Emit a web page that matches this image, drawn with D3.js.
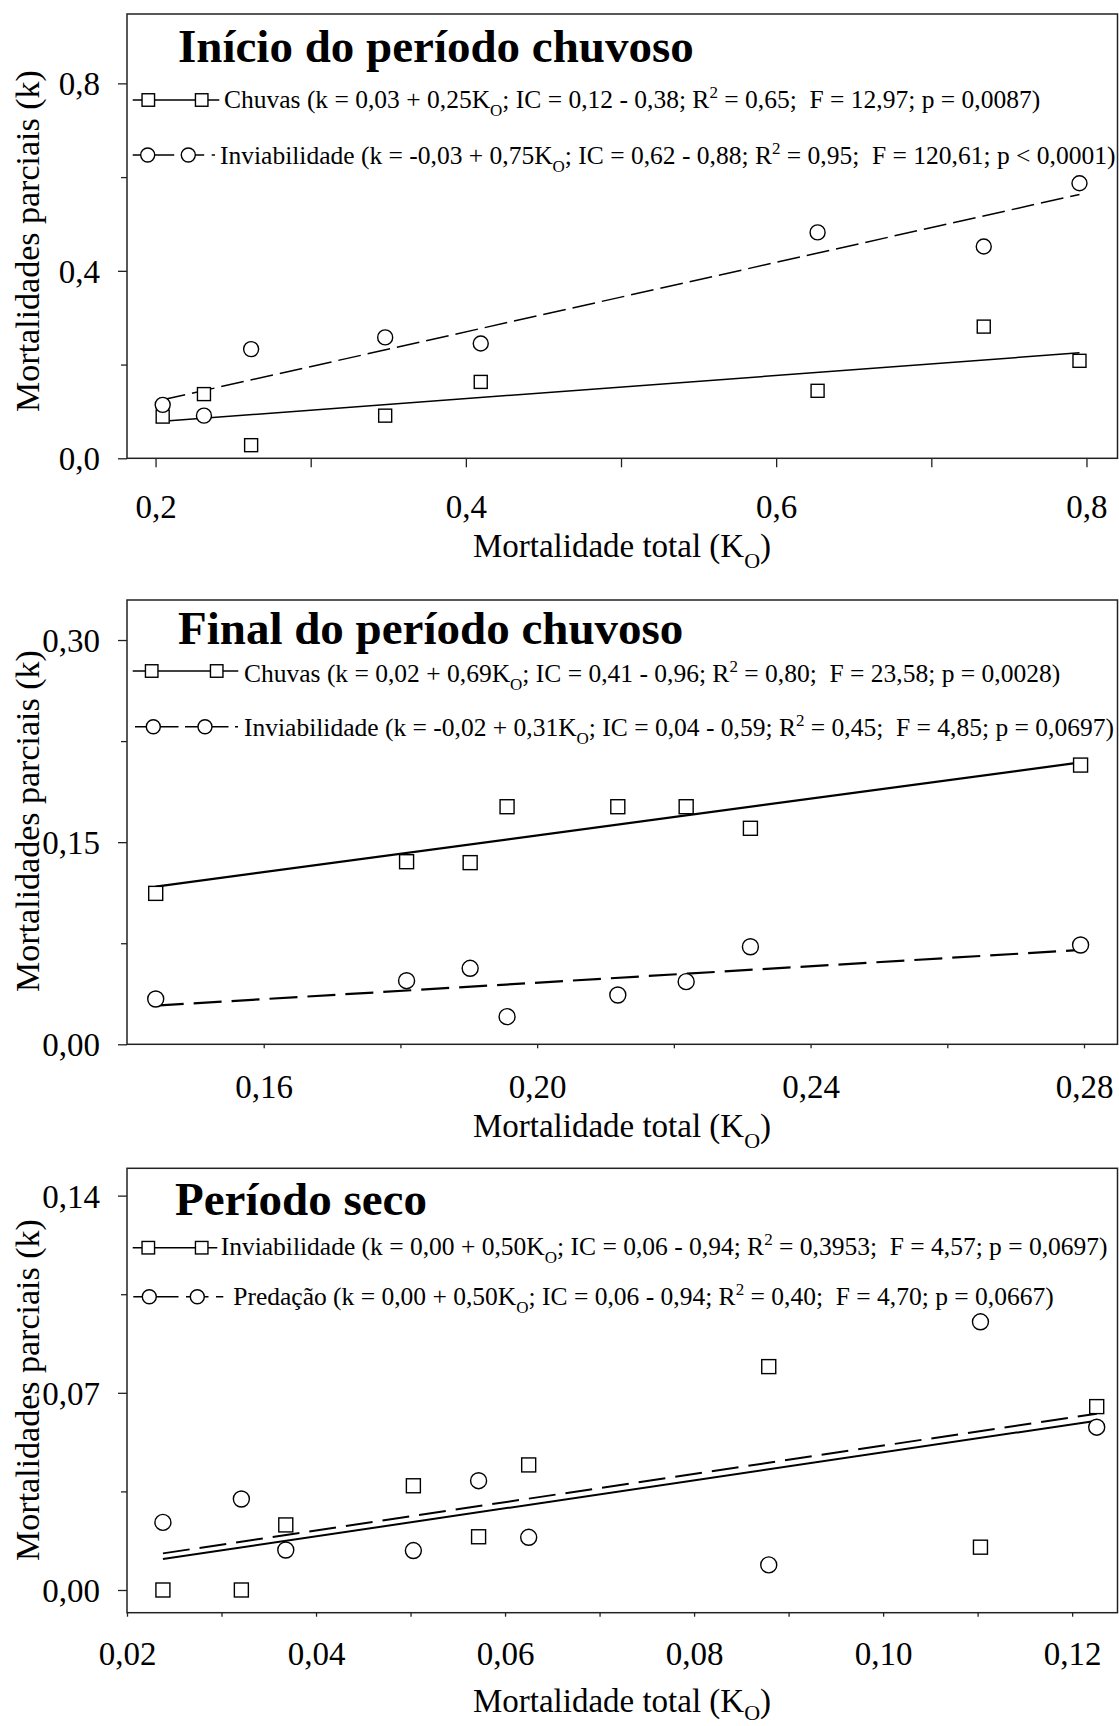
<!DOCTYPE html>
<html>
<head>
<meta charset="utf-8">
<script src="https://cdn.jsdelivr.net/npm/d3@7"></script>
<style>
  body { margin: 0; background: #fff; }
  svg { display: block; font-family: "Liberation Serif", "Times New Roman", serif; }
  text { white-space: pre; }
</style>
</head>
<body>
<svg id="chart" width="1119" height="1726"></svg>
<script>
// ---- data ----
var titles = ["Início do período chuvoso", "Final do período chuvoso", "Período seco"];

// panel 1 - inicio do periodo chuvoso
var p1X = [0.2046, 0.2312, 0.2616, 0.348, 0.4096, 0.6267, 0.7338, 0.7955];
var p1Chuvas = [0.089, 0.137, 0.028, 0.091, 0.163, 0.144, 0.281, 0.208];
var p1Inviab = [0.114, 0.091, 0.233, 0.258, 0.245, 0.482, 0.452, 0.587];
var p1FitChuvas = [[0.2046, 0.079], [0.7955, 0.225]];
var p1FitInviab = [[0.2046, 0.125], [0.7955, 0.563]];
var p1XMajor = [0.2, 0.4, 0.6, 0.8], p1XMinor = [0.3, 0.5, 0.7];
var p1XLabels = ["0,2", "0,4", "0,6", "0,8"];
var p1YMajor = [0, 0.4, 0.8], p1YMinor = [0.2, 0.6];
var p1YLabels = ["0,0", "0,4", "0,8"];
var p1Legend = [
  ["Chuvas (k = 0,03 + 0,25K", "O", "; IC = 0,12 - 0,38; R", "2", " = 0,65;  F = 12,97; p = 0,0087)"],
  ["Inviabilidade (k = -0,03 + 0,75K", "O", "; IC = 0,62 - 0,88; R", "2", " = 0,95;  F = 120,61; p < 0,0001)"]
];

// panel 2 - final do periodo chuvoso
var p2X = [0.1442, 0.1809, 0.1902, 0.1956, 0.2118, 0.2218, 0.2312, 0.2795];
var p2Chuvas = [0.112, 0.1355, 0.1348, 0.1763, 0.1763, 0.1763, 0.1603, 0.2072];
var p2Inviab = [0.0336, 0.0472, 0.0564, 0.0205, 0.0366, 0.0465, 0.0724, 0.0737];
var p2FitChuvas = [[0.1442, 0.117], [0.2795, 0.2092]];
var p2FitInviab = [[0.1442, 0.0287], [0.2795, 0.070]];
var p2XMajor = [0.16, 0.20, 0.24, 0.28], p2XMinor = [0.18, 0.22, 0.26];
var p2XLabels = ["0,16", "0,20", "0,24", "0,28"];
var p2YMajor = [0, 0.15, 0.30], p2YMinor = [0.075, 0.225];
var p2YLabels = ["0,00", "0,15", "0,30"];
var p2Legend = [
  ["Chuvas (k = 0,02 + 0,69K", "O", "; IC = 0,41 - 0,96; R", "2", " = 0,80;  F = 23,58; p = 0,0028)"],
  ["Inviabilidade (k = -0,02 + 0,31K", "O", "; IC = 0,04 - 0,59; R", "2", " = 0,45;  F = 4,85; p = 0,0697)"]
];

// panel 3 - periodo seco
var p3X = [0.0238, 0.0321, 0.0368, 0.0503, 0.0572, 0.0625, 0.0879, 0.1103, 0.1226];
var p3Inviab = [0, 0, 0.0231, 0.037, 0.0189, 0.0444, 0.0793, 0.0152, 0.0651];
var p3Predacao = [0.024, 0.0323, 0.0142, 0.014, 0.0388, 0.0187, 0.0089, 0.0952, 0.0578];
var p3FitInviab = [[0.0238, 0.011], [0.1226, 0.0601]];
var p3FitPredacao = [[0.0238, 0.013], [0.1226, 0.0626]];
var p3XMajor = [0.02, 0.04, 0.06, 0.08, 0.10, 0.12], p3XMinor = [0.03, 0.05, 0.07, 0.09, 0.11];
var p3XLabels = ["0,02", "0,04", "0,06", "0,08", "0,10", "0,12"];
var p3YMajor = [0, 0.07, 0.14], p3YMinor = [0.035, 0.105];
var p3YLabels = ["0,00", "0,07", "0,14"];
var p3Legend = [
  ["Inviabilidade (k = 0,00 + 0,50K", "O", "; IC = 0,06 - 0,94; R", "2", " = 0,3953;  F = 4,57; p = 0,0697)"],
  ["Predação (k = 0,00 + 0,50K", "O", "; IC = 0,06 - 0,94; R", "2", " = 0,40;  F = 4,70; p = 0,0667)"]
];

// ---- layout ----
var left = 127, right = 1117.5;
var svg = d3.select("#chart");

var panels = [
  { title: titles[0], titleX: 178, titleY: 62, top: 14, bottom: 458.3,
    xDom: [0.1816, 0.82], yDom: [0, 0.948],
    xMaj: p1XMajor, xMin: p1XMinor, xLab: p1XLabels, yMaj: p1YMajor, yMin: p1YMinor, yLab: p1YLabels,
    xTick: 9, xLabOff: 48, xTitleY: 557, subDy: 11, yTitleY: 241,
    lw: 1.5, dash: "23,7", msq: 13, mr: 7.5,
    series: [
      { x: p1X, y: p1Chuvas, shape: "square", fit: p1FitChuvas, dashed: false },
      { x: p1X, y: p1Inviab, shape: "circle", fit: p1FitInviab, dashed: true }
    ],
    legend: [
      { y: 100, x0: 132.7, s: [148.3, 201.7], x1: 219.3, tx: 224, tb: 108, parts: p1Legend[0], dash: null, off: 0 },
      { y: 155, x0: 132.7, s: [147.7, 188.3], x1: 215, tx: 220, tb: 164, parts: p1Legend[1], dash: "22.5,7.5", off: 11 }
    ] },
  { title: titles[1], titleX: 178, titleY: 644, top: 600, bottom: 1044.3,
    xDom: [0.14, 0.2849], yDom: [0, 0.3297],
    xMaj: p2XMajor, xMin: p2XMinor, xLab: p2XLabels, yMaj: p2YMajor, yMin: p2YMinor, yLab: p2YLabels,
    xTick: 4, xLabOff: 42, xTitleY: 1137, subDy: 11, yTitleY: 821,
    lw: 2.2, dash: "28,10", msq: 14, mr: 8,
    series: [
      { x: p2X, y: p2Chuvas, shape: "square", fit: p2FitChuvas, dashed: false },
      { x: p2X, y: p2Inviab, shape: "circle", fit: p2FitInviab, dashed: true }
    ],
    legend: [
      { y: 671, x0: 132.7, s: [151.7, 216.7], x1: 238.3, tx: 244, tb: 682, parts: p2Legend[0], dash: null, off: 0 },
      { y: 726.7, x0: 132.7, s: [153.3, 205], x1: 238, tx: 244, tb: 736, parts: p2Legend[1], dash: "18.5,6.5", off: 22.7 }
    ] },
  { title: titles[2], titleX: 175, titleY: 1215, top: 1168.3, bottom: 1612.7,
    xDom: [0.02, 0.1248], yDom: [-0.00806, 0.1497],
    xMaj: p3XMajor, xMin: p3XMinor, xLab: p3XLabels, yMaj: p3YMajor, yMin: p3YMinor, yLab: p3YLabels,
    xTick: 4, xLabOff: 41, xTitleY: 1712, subDy: 8, yTitleY: 1390,
    lw: 2, dash: "27,10", msq: 14, mr: 8,
    series: [
      { x: p3X, y: p3Inviab, shape: "square", fit: p3FitInviab, dashed: false },
      { x: p3X, y: p3Predacao, shape: "circle", fit: p3FitPredacao, dashed: true }
    ],
    legend: [
      { y: 1247.7, x0: 132.7, s: [148.3, 201.7], x1: 217.3, tx: 220.7, tb: 1255, parts: p3Legend[0], dash: null, off: 0 },
      { y: 1296.7, x0: 133.3, s: [149.3, 197.3], x1: 223.3, tx: 233.3, tb: 1305, parts: p3Legend[1], dash: "22.5,7.5", off: 7.3 }
    ] }
];

function marker(g, shape, cx, cy, p) {
  if (shape === "square") {
    g.append("rect")
      .attr("x", cx - p.msq / 2).attr("y", cy - p.msq / 2)
      .attr("width", p.msq).attr("height", p.msq)
      .attr("fill", "#fff").attr("stroke", "#000").attr("stroke-width", 1.4);
  } else {
    g.append("circle")
      .attr("cx", cx).attr("cy", cy).attr("r", p.mr)
      .attr("fill", "#fff").attr("stroke", "#000").attr("stroke-width", 1.4);
  }
}

panels.forEach(function (p) {
  var g = svg.append("g");
  var x = d3.scaleLinear().domain(p.xDom).range([left, right]);
  var y = d3.scaleLinear().domain(p.yDom).range([p.bottom, p.top]);

  // frame
  g.append("rect")
    .attr("x", left).attr("y", p.top)
    .attr("width", right - left).attr("height", p.bottom - p.top)
    .attr("fill", "none").attr("stroke", "#222").attr("stroke-width", 1.5);

  // x axis
  var xa = g.append("g").attr("transform", "translate(0," + p.bottom + ")")
    .call(d3.axisBottom(x).tickValues(p.xMaj).tickSize(p.xTick)
      .tickFormat(function (d, i) { return p.xLab[i]; }));
  xa.selectAll("text").attr("y", p.xLabOff).attr("dy", "0.35em")
    .style("font-size", "33px").attr("fill", "#000");
  g.append("g").attr("transform", "translate(0," + p.bottom + ")")
    .call(d3.axisBottom(x).tickValues(p.xMin).tickSize(p.xTick).tickFormat(""));

  // y axis
  var ya = g.append("g").attr("transform", "translate(" + left + ",0)")
    .call(d3.axisLeft(y).tickValues(p.yMaj).tickSize(9)
      .tickFormat(function (d, i) { return p.yLab[i]; }));
  ya.selectAll("text").attr("x", -27).attr("dy", "0.35em")
    .style("font-size", "33px").attr("fill", "#000");
  g.append("g").attr("transform", "translate(" + left + ",0)")
    .call(d3.axisLeft(y).tickValues(p.yMin).tickSize(6).tickFormat(""));

  g.selectAll(".domain").remove();
  g.selectAll(".tick line").attr("stroke", "#222").attr("stroke-width", 1.3);
  g.selectAll(".tick text").style("font-family", "'Liberation Serif', serif");

  // axis titles
  var xt = g.append("text").attr("x", 622).attr("y", p.xTitleY)
    .attr("text-anchor", "middle").style("font-size", "33px");
  xt.append("tspan").text("Mortalidade total (K");
  xt.append("tspan").attr("dy", p.subDy).style("font-size", "22px").text("O");
  xt.append("tspan").attr("dy", -p.subDy).text(")");

  g.append("text")
    .attr("transform", "translate(39," + p.yTitleY + ") rotate(-90)")
    .attr("text-anchor", "middle").style("font-size", "34px")
    .text("Mortalidades parciais (k)");

  // panel title
  g.append("text").attr("x", p.titleX).attr("y", p.titleY)
    .style("font-size", "47px").style("font-weight", "bold")
    .text(p.title);

  // fit lines
  var line = d3.line().x(function (d) { return x(d[0]); }).y(function (d) { return y(d[1]); });
  p.series.forEach(function (s) {
    g.append("path").datum(s.fit).attr("d", line)
      .attr("fill", "none").attr("stroke", "#000").attr("stroke-width", p.lw)
      .attr("stroke-dasharray", s.dashed ? p.dash : null);
  });

  // points
  p.series.forEach(function (s) {
    s.x.forEach(function (xv, i) {
      marker(g, s.shape, x(xv), y(s.y[i]), p);
    });
  });

  // legend
  p.legend.forEach(function (r, k) {
    var s = p.series[k];
    g.append("line").attr("x1", r.x0).attr("x2", r.x1).attr("y1", r.y).attr("y2", r.y)
      .attr("stroke", "#000").attr("stroke-width", 1.4)
      .attr("stroke-dasharray", r.dash)
      .attr("stroke-dashoffset", r.off);
    r.s.forEach(function (sx) {
      marker(g, s.shape, sx, r.y, { msq: 12.5, mr: 7 });
    });
    var t = g.append("text").attr("x", r.tx).attr("y", r.tb).style("font-size", "25.5px");
    t.append("tspan").text(r.parts[0]);
    t.append("tspan").attr("dy", 8).style("font-size", "17px").text(r.parts[1]);
    t.append("tspan").attr("dy", -8).text(r.parts[2]);
    t.append("tspan").attr("dy", -10).style("font-size", "17px").text(r.parts[3]);
    t.append("tspan").attr("dy", 10).text(r.parts[4]);
  });
});
</script>
</body>
</html>
